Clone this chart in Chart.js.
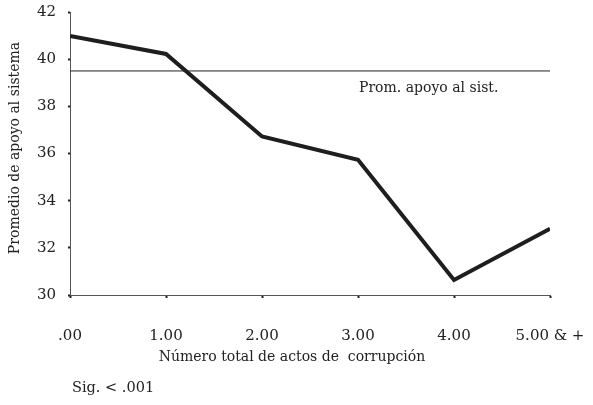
<!DOCTYPE html>
<html>
<head>
<meta charset="utf-8">
<script src="https://cdn.jsdelivr.net/npm/chart.js@4/dist/chart.umd.min.js"></script>
<style>
html,body{margin:0;padding:0;background:#fff;}
#wrap{width:593px;height:405px;}
</style>
</head>
<body>
<div id="wrap"><canvas id="c" width="593" height="405"></canvas></div>
<script>
const categories = ['.00', '1.00', '2.00', '3.00', '4.00', '5.00 & +'];
const xValues = [0, 1, 2, 3, 4, 5];
const supportValues = [40.98, 40.22, 36.72, 35.73, 30.64, 32.81];
const meanSupport = 39.5;
const meanLabel = 'Prom. apoyo al sist.';
const yTicks = [30, 32, 34, 36, 38, 40, 42];
const xTitle = 'Número total de actos de  corrupción';
const yTitle = 'Promedio de apoyo al sistema';
const note = 'Sig. < .001';

const FONT = '"DejaVu Serif", "Liberation Serif", serif';

const linePts = xValues.map((x, i) => ({x: x, y: supportValues[i]}));
const refPts = [{x: xValues[0], y: meanSupport}, {x: xValues[xValues.length - 1], y: meanSupport}];

const textPlugin = {
  id: 'texts',
  afterDraw(chart) {
    const ctx = chart.ctx;
    const xs = chart.scales.x, ys = chart.scales.y;
    ctx.save();
    ctx.fillStyle = '#222';
    ctx.font = '14px ' + FONT;
    ctx.textBaseline = 'middle';
    ctx.textAlign = 'left';
    ctx.fillText(meanLabel, xs.getPixelForValue(3) + 1, ys.getPixelForValue(meanSupport) + 17);
    ctx.textAlign = 'center';
    ctx.font = '14px ' + FONT;
    ctx.fillText(xTitle, 292, 357);
    ctx.textAlign = 'left';
    ctx.font = '14.5px ' + FONT;
    ctx.fillText(note, 72, 388);
    ctx.translate(15, 148);
    ctx.rotate(-Math.PI / 2);
    ctx.textAlign = 'center';
    ctx.font = '14px ' + FONT;
    ctx.fillText(yTitle, 0, 0);
    ctx.restore();
  }
};

new Chart(document.getElementById('c'), {
  type: 'line',
  data: {
    datasets: [
      {data: refPts, borderColor: '#222', borderWidth: 1, pointRadius: 0, fill: false},
      {data: linePts, borderColor: '#1e1e1e', borderWidth: 4, pointRadius: 0, fill: false, borderJoinStyle: 'miter'},
      {data: linePts, borderColor: '#6a6a6a', borderWidth: 0.8, pointRadius: 0, fill: false}
    ]
  },
  options: {
    responsive: false,
    animation: false,
    layout: {padding: {top: 12, right: 43, left: 0, bottom: 0}},
    plugins: {legend: {display: false}, tooltip: {enabled: false}},
    scales: {
      x: {
        type: 'linear', min: 0, max: 5,
        afterBuildTicks(s) { s.ticks = xValues.map(v => ({value: v})); },
        afterFit(s) { s.height = 110; s.paddingLeft = 0; s.paddingRight = 0; },
        ticks: {
          callback: (v) => categories[xValues.indexOf(v)],
          font: {family: FONT, size: 15}, color: '#222', padding: 29, maxRotation: 0, autoSkip: false
        },
        grid: {drawOnChartArea: false, drawTicks: true, tickLength: 3, tickWidth: 2, tickColor: '#222'},
        border: {color: '#555', width: 1}
      },
      y: {
        min: 30, max: 42,
        afterBuildTicks(s) { s.ticks = yTicks.map(v => ({value: v})); },
        afterFit(s) { s.width = 70; s.paddingTop = 0; s.paddingBottom = 0; },
        ticks: {font: {family: FONT, size: 15}, color: '#222', padding: 12},
        grid: {drawOnChartArea: false, drawTicks: true, tickLength: 2, tickWidth: 2, tickColor: '#222'},
        border: {color: '#555', width: 1}
      }
    }
  },
  plugins: [textPlugin]
});
</script>
</body>
</html>
